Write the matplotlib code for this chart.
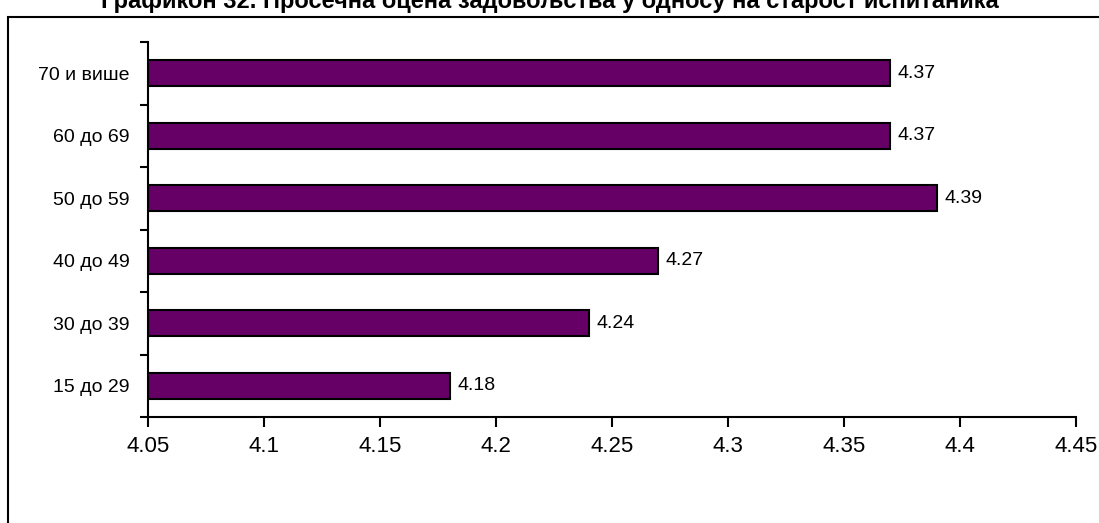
import matplotlib.pyplot as plt
import matplotlib.patches as patches
import numpy as np

plt.rcParams['font.family'] = ['Liberation Sans', 'DejaVu Sans']

categories = ["15 до 29", "30 до 39", "40 до 49", "50 до 59", "60 до 69", "70 и више"]
values = [4.18, 4.24, 4.27, 4.39, 4.37, 4.37]
xticks = [4.05, 4.1, 4.15, 4.2, 4.25, 4.3, 4.35, 4.4, 4.45]
xticklabels = ["4.05", "4.1", "4.15", "4.2", "4.25", "4.3", "4.35", "4.4", "4.45"]
title = "Графикон 32. Просечна оцена задовољства у односу на старост испитаника"

W, H = 1099, 523
fig = plt.figure(figsize=(W / 100, H / 100), dpi=100)

# outer frame (cut off at right/bottom like the original)
fig.patches.append(patches.Rectangle((8 / W, -0.1), 1.2, 1.1 - 17 / H,
                                     transform=fig.transFigure, fill=False,
                                     edgecolor='black', linewidth=1.5))
fig.text(0.5, 1 - 8 / H, title, ha='center', va='baseline',
         fontsize=17, fontweight='bold')

ax = fig.add_axes([148 / W, 1 - 417 / H, (1076 - 148) / W, (417 - 42) / H])
y = np.arange(len(categories))
ax.barh(y, [v - 4.05 for v in values], left=4.05, height=0.42,
        color='#660066', edgecolor='black', linewidth=1.5)

for yi, v in zip(y, values):
    ax.text(v + 0.0032, yi, f"{v:.2f}", va='center', ha='left', fontsize=14)

ax.set_xlim(4.05, 4.45)
ax.set_ylim(-0.5, len(categories) - 0.5)
ax.set_xticks(xticks)
ax.set_xticklabels(xticklabels, fontsize=16)
ax.set_yticks(y)
ax.set_yticklabels(categories, fontsize=14)
ax.set_yticks(np.arange(-0.5, len(categories)), minor=True)
ax.tick_params(axis='y', which='major', length=0, pad=13)
ax.tick_params(axis='y', which='minor', length=6, width=1.5, direction='out')
ax.tick_params(axis='x', length=7, width=1.5, direction='out', pad=7)
for s in ['top', 'right']:
    ax.spines[s].set_visible(False)
for s in ['left', 'bottom']:
    ax.spines[s].set_linewidth(1.5)

fig.savefig("out.png", dpi=100)
